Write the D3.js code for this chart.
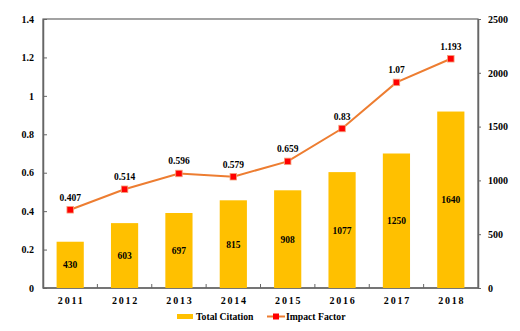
<!DOCTYPE html>
<html>
<head>
<meta charset="utf-8">
<script src="https://cdn.jsdelivr.net/npm/d3@7"></script>
<style>
  body { margin: 0; background: #fff; }
</style>
</head>
<body>
<div id="chart"></div>
<script>
// chart data
const years = ["2011", "2012", "2013", "2014", "2015", "2016", "2017", "2018"];
const totalCitation = [430, 603, 697, 815, 908, 1077, 1250, 1640];
const impactFactor = [0.407, 0.514, 0.596, 0.579, 0.659, 0.83, 1.07, 1.193];
const leftTicks = [0, 0.2, 0.4, 0.6, 0.8, 1, 1.2, 1.4];
const rightTicks = [0, 500, 1000, 1500, 2000, 2500];

const fontFamily = "'Liberation Serif', 'Times New Roman', 'DejaVu Serif', serif";

const svgWidth = 520;
const svgHeight = 331;
const margin = { top: 19, right: 42, bottom: 43, left: 43 };
const chartWidth = svgWidth - margin.left - margin.right;
const chartHeight = svgHeight - margin.top - margin.bottom;

const svg = d3.select("#chart")
  .append("svg")
  .attr("width", svgWidth)
  .attr("height", svgHeight);

const chartGroup = svg.append("g")
  .attr("transform", `translate(${margin.left}, ${margin.top})`);

// scales
const xScale = d3.scaleBand()
  .domain(years)
  .range([0, chartWidth]);

const yLeft = d3.scaleLinear()
  .domain([0, 1.4])
  .range([chartHeight, 0]);

const yRight = d3.scaleLinear()
  .domain([0, 2500])
  .range([chartHeight, 0]);

// frame
chartGroup.append("rect")
  .attr("x", 0)
  .attr("y", 0)
  .attr("width", chartWidth)
  .attr("height", chartHeight)
  .attr("fill", "none")
  .attr("stroke", "#666")
  .attr("stroke-width", 1.2);

// left axis
const leftAxis = d3.axisLeft(yLeft)
  .tickValues(leftTicks)
  .tickFormat(d => String(+d.toFixed(1)))
  .tickSizeInner(-4)
  .tickSizeOuter(0)
  .tickPadding(9);
const leftG = chartGroup.append("g").call(leftAxis);
leftG.select(".domain").attr("stroke", "#666").attr("stroke-width", 1.5);
leftG.selectAll(".tick line").attr("stroke", "#666");

// right axis
const rightAxis = d3.axisRight(yRight)
  .tickValues(rightTicks)
  .tickFormat(d3.format("d"))
  .tickSizeInner(3)
  .tickSizeOuter(0)
  .tickPadding(7);
const rightG = chartGroup.append("g")
  .attr("transform", `translate(${chartWidth}, 0)`)
  .call(rightAxis);
rightG.select(".domain").attr("stroke", "#666").attr("stroke-width", 1.5);
rightG.selectAll(".tick line").attr("stroke", "#666");

// bottom axis: ticks between categories
const bottomG = chartGroup.append("g")
  .attr("transform", `translate(0, ${chartHeight})`);
bottomG.append("line")
  .attr("x1", 0).attr("x2", chartWidth)
  .attr("stroke", "#666").attr("stroke-width", 1.5);
bottomG.selectAll("line.sep")
  .data(years.slice(1))
  .enter()
  .append("line")
  .attr("class", "sep")
  .attr("x1", d => xScale(d))
  .attr("x2", d => xScale(d))
  .attr("y1", 0)
  .attr("y2", -4)
  .attr("stroke", "#666");
bottomG.selectAll("text.year")
  .data(years)
  .enter()
  .append("text")
  .attr("class", "year")
  .attr("x", d => xScale(d) + xScale.bandwidth() / 2 + 1)
  .attr("y", 16)
  .attr("text-anchor", "middle")
  .style("font-size", "10px")
  .style("letter-spacing", "1.8px")
  .text(d => d);

// bars
const barWidth = xScale.bandwidth() * 0.5;
chartGroup.selectAll("rect.bar")
  .data(totalCitation)
  .enter()
  .append("rect")
  .attr("class", "bar")
  .attr("x", (d, i) => xScale(years[i]) + (xScale.bandwidth() - barWidth) / 2)
  .attr("y", d => yRight(d))
  .attr("width", barWidth)
  .attr("height", d => chartHeight - yRight(d))
  .attr("fill", "#FFC000");

chartGroup.selectAll("text.barLabel")
  .data(totalCitation)
  .enter()
  .append("text")
  .attr("class", "barLabel")
  .attr("x", (d, i) => xScale(years[i]) + xScale.bandwidth() / 2)
  .attr("y", d => (yRight(d) + chartHeight) / 2 + 3.5)
  .attr("text-anchor", "middle")
  .style("font-size", "9.5px")
  .text(d => d);

// impact factor line
const line = d3.line()
  .x((d, i) => xScale(years[i]) + xScale.bandwidth() / 2)
  .y(d => yLeft(d));

chartGroup.append("path")
  .datum(impactFactor)
  .attr("d", line)
  .attr("fill", "none")
  .attr("stroke", "#ED7D31")
  .attr("stroke-width", 2);

chartGroup.selectAll("rect.marker")
  .data(impactFactor)
  .enter()
  .append("rect")
  .attr("class", "marker")
  .attr("x", (d, i) => xScale(years[i]) + xScale.bandwidth() / 2 - 3.25)
  .attr("y", d => yLeft(d) - 3.25)
  .attr("width", 6.5)
  .attr("height", 6.5)
  .attr("fill", "#FF0000")
  .attr("stroke", "#F4A07A")
  .attr("stroke-width", 0.8);

chartGroup.selectAll("text.ifLabel")
  .data(impactFactor)
  .enter()
  .append("text")
  .attr("class", "ifLabel")
  .attr("x", (d, i) => xScale(years[i]) + xScale.bandwidth() / 2)
  .attr("y", d => yLeft(d) - 9)
  .attr("text-anchor", "middle")
  .style("font-size", "9.5px")
  .text(d => d);

// legend
const legend = svg.append("g")
  .attr("transform", "translate(0, 316.5)");

legend.append("rect")
  .attr("x", 177)
  .attr("y", -2.5)
  .attr("width", 16)
  .attr("height", 5)
  .attr("fill", "#FFC000");
legend.append("text")
  .attr("x", 196)
  .attr("y", 3.3)
  .style("font-size", "9.7px")
  .text("Total Citation");

legend.append("line")
  .attr("x1", 267).attr("x2", 285)
  .attr("y1", 0).attr("y2", 0)
  .attr("stroke", "#ED7D31")
  .attr("stroke-width", 2);
legend.append("rect")
  .attr("x", 273).attr("y", -3)
  .attr("width", 6).attr("height", 6)
  .attr("fill", "#FF0000");
legend.append("text")
  .attr("x", 286)
  .attr("y", 3.3)
  .style("font-size", "9.7px")
  .text("Impact Factor");

// shared text style
svg.selectAll("text")
  .style("font-family", fontFamily)
  .style("font-weight", "bold")
  .style("fill", "#000");
leftG.selectAll("text").style("font-size", "10px");
rightG.selectAll("text").style("font-size", "10px");
</script>
</body>
</html>
